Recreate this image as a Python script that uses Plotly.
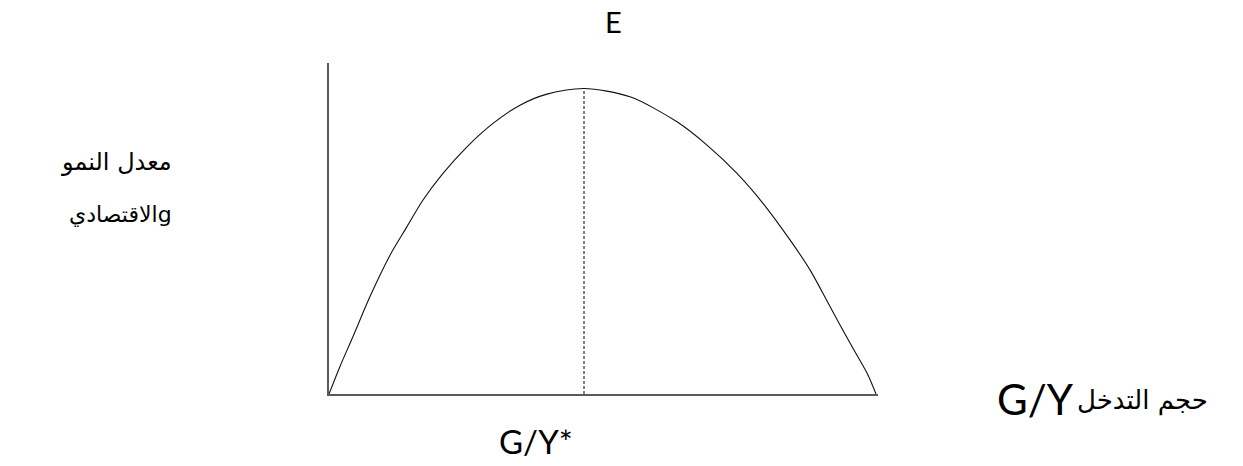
import plotly.graph_objects as go

# Curve (x: intervention size G/Y, y: growth rate g), arbitrary units
curve_x = [0, 11, 24, 41, 61, 78, 94, 114, 138, 164, 191, 218, 255, 301, 348, 378, 408, 434, 461, 481, 501, 521, 538, 547]
curve_y = [0, 27.6, 57.6, 97.6, 139, 167.6, 194.3, 221, 247.6, 271, 289.3, 300.3, 306, 297.6, 272.6, 249.3, 221, 191, 154.3, 124.3, 87.6, 51, 21, 0]
peak_x = 255
peak_y = 306
x_max = 549
y_max = 331.5

# Labels
label_peak = "E"
label_opt = "G/Y*"
label_y_line1 = "معدل النمو"
label_y_line2 = "الاقتصاديg"
label_x_ar = "حجم التدخل"
label_x_lat = "G/Y"

# plot-area edges in page pixels
PL, PR, PT, PB = 329, 878, 63, 394.5
W, H = 1243, 466


def px(x):
    return (x - PL) / (PR - PL)


def py(y):
    return (PB - y) / (PB - PT)


fig = go.Figure()
fig.add_trace(go.Scatter(x=curve_x, y=curve_y, mode="lines",
                         line=dict(color="#111111", width=1.1, shape="spline", smoothing=0.8),
                         hoverinfo="skip", showlegend=False))
fig.add_trace(go.Scatter(x=[peak_x, peak_x], y=[0, peak_y], mode="lines",
                         line=dict(color="black", width=1, dash="3px,2px"),
                         hoverinfo="skip", showlegend=False))

axis_style = dict(showline=True, linecolor="#5a5a5a", linewidth=2, showgrid=False,
                  zeroline=False, showticklabels=False, ticks="", fixedrange=True)
fig.update_xaxes(range=[0, x_max], **axis_style)
fig.update_yaxes(range=[0, y_max], **axis_style)

latin = "Lato"
arabic = "DejaVu Sans"

annotations = [
    dict(x=px(613.5), y=py(21), text=label_peak, xanchor="center", yanchor="middle",
         font=dict(family=latin, size=29, color="black")),
    dict(x=px(575), y=py(442), text=label_opt, xanchor="right", yanchor="middle",
         font=dict(family=latin, size=33, color="black")),
    dict(x=px(995), y=py(400), text=label_x_lat, xanchor="left", yanchor="middle",
         font=dict(family=latin, size=42, color="black")),
    dict(x=px(1075), y=py(401), text=label_x_ar, xanchor="left", yanchor="middle",
         font=dict(family=arabic, size=26, color="black")),
    dict(x=px(174), y=py(162), text=label_y_line1, xanchor="right", yanchor="middle",
         font=dict(family=arabic, size=24, color="black")),
    dict(x=px(174), y=py(215), text=label_y_line2, xanchor="right", yanchor="middle",
         font=dict(family=arabic, size=22, color="black")),
]
for a in annotations:
    a.update(xref="paper", yref="paper", showarrow=False)

fig.update_layout(
    width=W, height=H,
    margin=dict(l=PL, r=W - PR, t=PT, b=H - PB, pad=0),
    plot_bgcolor="white", paper_bgcolor="white",
    annotations=annotations,
)

fig.write_html("out.html", config={"displayModeBar": False, "staticPlot": True},
               post_script="document.body.style.margin='0';document.body.style.overflow='hidden';")
